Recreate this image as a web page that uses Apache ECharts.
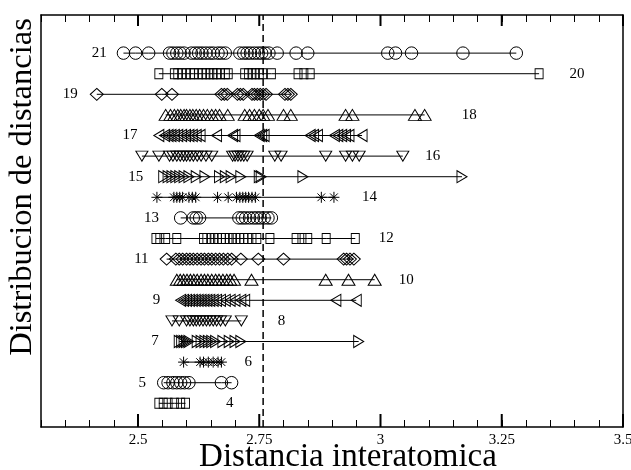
<!DOCTYPE html>
<html>
<head>
<meta charset="utf-8">
<script src="https://cdn.jsdelivr.net/npm/echarts@6/dist/echarts.min.js"></script>
<style>
  html, body { margin: 0; padding: 0; background: #fff; }
  #chart { width: 631px; height: 470px; }
</style>
</head>
<body>
<div id="chart"></div>
<script>
// distancias por fila
var d21 = [2.47, 2.495, 2.522, 2.565, 2.572, 2.58, 2.587, 2.595, 2.61, 2.618, 2.625, 2.632, 2.64, 2.648, 2.655, 2.665, 2.672, 2.68, 2.71, 2.718, 2.725, 2.732, 2.74, 2.748, 2.755, 2.762, 2.77, 2.787, 2.826, 2.85, 3.015, 3.031, 3.064, 3.17, 3.28];
var d20 = [2.543, 2.575, 2.582, 2.59, 2.6, 2.608, 2.615, 2.625, 2.633, 2.64, 2.648, 2.655, 2.662, 2.67, 2.68, 2.686, 2.72, 2.728, 2.735, 2.742, 2.75, 2.757, 2.775, 2.83, 2.842, 2.855, 3.327];
var d19 = [2.415, 2.549, 2.57, 2.672, 2.678, 2.684, 2.705, 2.711, 2.717, 2.735, 2.74, 2.746, 2.752, 2.758, 2.764, 2.803, 2.809, 2.815];
var d18 = [2.557, 2.567, 2.575, 2.582, 2.588, 2.595, 2.6, 2.607, 2.613, 2.62, 2.627, 2.635, 2.643, 2.652, 2.66, 2.668, 2.685, 2.72, 2.73, 2.74, 2.75, 2.758, 2.768, 2.8, 2.815, 2.928, 2.942, 3.071, 3.091];
var d17 = [2.543, 2.555, 2.562, 2.568, 2.575, 2.582, 2.59, 2.598, 2.605, 2.612, 2.62, 2.628, 2.662, 2.695, 2.7, 2.75, 2.755, 2.76, 2.855, 2.862, 2.87, 2.905, 2.912, 2.92, 2.928, 2.935, 2.962];
var d16 = [2.508, 2.543, 2.565, 2.572, 2.58, 2.587, 2.594, 2.6, 2.607, 2.614, 2.622, 2.63, 2.64, 2.652, 2.695, 2.7, 2.706, 2.712, 2.718, 2.725, 2.782, 2.795, 2.887, 2.928, 2.942, 2.956, 3.046];
var d15 = [2.553, 2.562, 2.57, 2.578, 2.586, 2.595, 2.605, 2.62, 2.638, 2.668, 2.68, 2.692, 2.712, 2.75, 2.754, 2.84, 3.168];
var d14 = [2.539, 2.574, 2.58, 2.586, 2.592, 2.605, 2.612, 2.619, 2.664, 2.686, 2.703, 2.71, 2.716, 2.722, 2.728, 2.735, 2.742, 2.878, 2.904];
var d13 = [2.588, 2.614, 2.62, 2.627, 2.708, 2.715, 2.722, 2.73, 2.738, 2.745, 2.752, 2.76, 2.768, 2.775];
var d12 = [2.537, 2.545, 2.557, 2.58, 2.635, 2.642, 2.65, 2.657, 2.664, 2.672, 2.68, 2.688, 2.695, 2.702, 2.71, 2.718, 2.726, 2.735, 2.745, 2.772, 2.826, 2.838, 2.85, 2.888, 2.948];
var d11 = [2.559, 2.578, 2.585, 2.592, 2.6, 2.607, 2.614, 2.622, 2.63, 2.637, 2.645, 2.652, 2.66, 2.668, 2.676, 2.685, 2.693, 2.712, 2.748, 2.8, 2.924, 2.93, 2.937, 2.945];
var d10 = [2.58, 2.587, 2.594, 2.601, 2.608, 2.615, 2.622, 2.63, 2.637, 2.644, 2.652, 2.66, 2.667, 2.675, 2.683, 2.69, 2.698, 2.734, 2.887, 2.934, 2.988];
var d9 = [2.588, 2.594, 2.6, 2.606, 2.612, 2.618, 2.624, 2.63, 2.636, 2.642, 2.648, 2.655, 2.662, 2.67, 2.68, 2.69, 2.7, 2.712, 2.72, 2.908, 2.95];
var d8 = [2.57, 2.585, 2.6, 2.607, 2.614, 2.62, 2.627, 2.634, 2.641, 2.648, 2.655, 2.662, 2.67, 2.68, 2.713];
var d7 = [2.585, 2.59, 2.595, 2.6, 2.605, 2.622, 2.63, 2.638, 2.645, 2.652, 2.66, 2.675, 2.688, 2.7, 2.712, 2.955];
var d6 = [2.594, 2.628, 2.635, 2.645, 2.655, 2.665, 2.672];
var d5 = [2.553, 2.562, 2.572, 2.58, 2.588, 2.596, 2.605, 2.672, 2.693];
var d4 = [2.543, 2.552, 2.562, 2.575, 2.588, 2.598];

var filas = [21, 20, 19, 18, 17, 16, 15, 14, 13, 12, 11, 10, 9, 8, 7, 6, 5, 4];
var datos = [d21, d20, d19, d18, d17, d16, d15, d14, d13, d12, d11, d10, d9, d8, d7, d6, d5, d4];

var majorTicks = [2.5, 2.75, 3, 3.25, 3.5];
var lineaCorte = 2.758;

// separacion de la etiqueta de cada fila (px)
var gaps = [10, 26, 12, 30, 16, 16, 15, 22, 15, 19, 11, 17, 15, 30, 15, 17, 11, 36];

var FONT = 'Liberation Serif';
var X_MIN = 2.3, X_MAX = 3.5, Y_MIN = 2.85, Y_MAX = 22.85;

var asterisco = 'path://M0,5 L10,5 M5,0 L5,10 M1.5,1.5 L8.5,8.5 M8.5,1.5 L1.5,8.5';
var marcas = [
    { symbol: 'circle', size: 12.5, rot: 0 },
    { symbol: 'rect', size: [8, 10], rot: 0 },
    { symbol: 'diamond', size: [13, 12], rot: 0 },
    { symbol: 'triangle', size: [13, 11], rot: 0 },
    { symbol: 'triangle', size: [12, 10], rot: 90 },
    { symbol: 'triangle', size: [12, 10], rot: 180 },
    { symbol: 'triangle', size: [12, 10], rot: -90 },
    { symbol: asterisco, size: 11, rot: 0 }
];

var myChart = echarts.init(document.getElementById('chart'));

var series = [];
filas.forEach(function (fila, i) {
    var vals = datos[i];
    var izq = fila % 2 === 1;
    var m = marcas[i % marcas.length];
    var data = vals.map(function (v, j) {
        var item = { value: [v, fila] };
        if ((izq && j === 0) || (!izq && j === vals.length - 1)) {
            item.label = {
                show: true,
                position: izq ? 'left' : 'right',
                distance: gaps[i],
                formatter: String(fila),
                color: '#000',
                fontSize: 15,
                fontFamily: FONT
            };
        }
        return item;
    });
    series.push({
        type: 'line',
        data: data,
        symbol: m.symbol,
        symbolSize: m.size,
        symbolRotate: m.rot,
        showSymbol: true,
        silent: true,
        lineStyle: { color: '#000', width: 1 },
        itemStyle: { color: 'rgba(0,0,0,0)', borderColor: '#000', borderWidth: 1 },
        z: 3
    });
});

// linea discontinua vertical
series.push({
    type: 'line',
    data: [[lineaCorte, Y_MIN], [lineaCorte, Y_MAX]],
    symbol: 'none',
    silent: true,
    lineStyle: { color: '#000', width: 1.5, type: [7, 4] },
    z: 2
});

// marcas mayores del eje (abajo y arriba, hacia dentro)
series.push({
    type: 'custom',
    coordinateSystem: 'cartesian2d',
    data: majorTicks.map(function (v) { return [v, Y_MIN]; }),
    encode: { x: 0, y: 1 },
    silent: true,
    clip: false,
    z: 10,
    renderItem: function (params, api) {
        var v = api.value(0);
        var abajo = api.coord([v, Y_MIN]);
        var arriba = api.coord([v, Y_MAX]);
        return {
            type: 'group',
            children: [
                { type: 'line', shape: { x1: abajo[0], y1: abajo[1], x2: abajo[0], y2: abajo[1] - 13 },
                  style: { stroke: '#000', lineWidth: 2 } },
                { type: 'line', shape: { x1: arriba[0], y1: arriba[1], x2: arriba[0], y2: arriba[1] + 11 },
                  style: { stroke: '#000', lineWidth: 2 } }
            ]
        };
    }
});

function ejeX(pos, labels) {
    var ax = {
        type: 'value',
        position: pos,
        min: X_MIN,
        max: X_MAX,
        interval: 0.05,
        splitLine: { show: false },
        axisLine: { show: true, onZero: false, lineStyle: { color: '#000', width: 1.5 } },
        axisTick: { show: true, inside: true, length: 7, lineStyle: { color: '#000', width: 1 } },
        axisLabel: { show: false }
    };
    if (labels) {
        ax.axisLabel = { show: true, customValues: majorTicks, color: '#000', fontSize: 15, fontFamily: FONT, margin: 6 };
    }
    return ax;
}

var option = {
    animation: false,
    backgroundColor: '#fff',
    grid: { left: 41, right: 8, top: 15, bottom: 43, outerBoundsMode: 'none', containLabel: false },
    xAxis: [
        ejeX('bottom', true),
        ejeX('top', false)
    ],
    yAxis: [
        { type: 'value', position: 'left', min: Y_MIN, max: Y_MAX, splitLine: { show: false },
          axisTick: { show: false }, axisLabel: { show: false },
          axisLine: { show: true, onZero: false, lineStyle: { color: '#000', width: 1.5 } } },
        { type: 'value', position: 'right', min: Y_MIN, max: Y_MAX, splitLine: { show: false },
          axisTick: { show: false }, axisLabel: { show: false },
          axisLine: { show: true, onZero: false, lineStyle: { color: '#000', width: 1.5 } } }
    ],
    graphic: [
        { type: 'text', x: 348, y: 457, silent: true,
          style: { text: 'Distancia interatomica', font: '33px "Liberation Serif"', fill: '#000', align: 'center', verticalAlign: 'middle' } },
        { type: 'text', x: 22, y: 187, rotation: Math.PI / 2, silent: true,
          style: { text: 'Distribucion de distancias', font: '32.5px "Liberation Serif"', fill: '#000', align: 'center', verticalAlign: 'middle' } }
    ],
    series: series
};

myChart.setOption(option);
</script>
</body>
</html>
